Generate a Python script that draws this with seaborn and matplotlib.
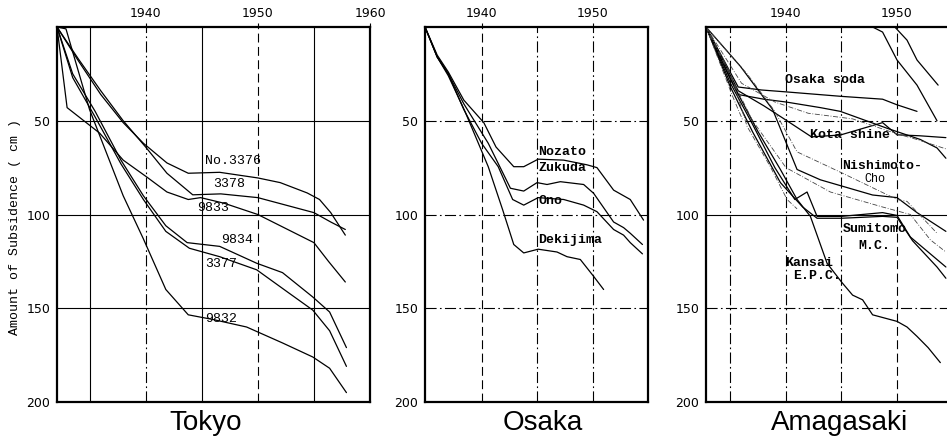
import matplotlib.pyplot as plt
import seaborn as sns

# ---- Tokyo (year, subsidence cm)
tokyo_3376_yr = [1932.1, 1934, 1936, 1938, 1939.8, 1941.9, 1943.8, 1946.6, 1950, 1952, 1954.4, 1955.5, 1956.5, 1957.8]
tokyo_3376_cm = [0, 18, 36, 51, 62, 72.5, 78, 77.5, 80.5, 83, 88.5, 92, 99, 111]
tokyo_3378_yr = [1932.1, 1934, 1936, 1938, 1940, 1941.9, 1944.2, 1946.7, 1950, 1952.5, 1955, 1956.5, 1957.8]
tokyo_3378_cm = [0, 17, 34, 50, 64, 78, 89.5, 89, 91, 95, 99, 104, 108]
tokyo_9833_yr = [1932.1, 1933, 1935.9, 1938, 1940.1, 1941.9, 1943.8, 1944.9, 1947, 1950, 1953, 1955, 1956.3, 1957.8]
tokyo_9833_cm = [0, 43, 56.6, 71, 80, 88, 92, 91, 94, 100, 109, 115, 125, 136]
tokyo_9834_yr = [1932.1, 1933.5, 1935.5, 1937.8, 1939.8, 1941.8, 1943.7, 1946.6, 1949.9, 1952.2, 1954.9, 1956.4, 1957.9]
tokyo_9834_cm = [0, 25, 45, 71, 90, 106, 115, 117, 126, 131, 144, 152, 171]
tokyo_3377_yr = [1932.1, 1933.5, 1935.5, 1937.8, 1939.8, 1941.8, 1943.9, 1946.6, 1949.9, 1952.8, 1954.9, 1956.4, 1957.9]
tokyo_3377_cm = [0, 27, 48, 73, 92, 109, 118, 122.5, 129.5, 142, 151, 162, 181]
tokyo_9832_yr = [1932.1, 1932.9, 1935, 1938, 1939.8, 1941.8, 1943.8, 1946, 1949, 1952.2, 1954.9, 1956.4, 1957.9]
tokyo_9832_cm = [0, 1, 44, 90, 113, 140, 153.5, 156, 160, 168.5, 176, 182, 195]
tokyo_names = ['No.3376', '3378', '9833', '9834', '3377', '9832']
tokyo_label_yr = [1945.3, 1946.0, 1944.6, 1946.7, 1945.3, 1945.3]
tokyo_label_cm = [71.4, 83.7, 96.5, 113.5, 126.3, 155.6]

# ---- Osaka
osaka_nozato_yr = [1934.9, 1936, 1937, 1938.4, 1940.2, 1941.3, 1942.9, 1943.8, 1945.1, 1947.4, 1949.5, 1950.4, 1951.9, 1953.4, 1954.6]
osaka_nozato_cm = [0, 15, 24, 39, 51, 64, 74.5, 74.5, 70.5, 71, 73.5, 75, 87, 92, 103]
osaka_zukuda_yr = [1934.9, 1936, 1937, 1938.4, 1940.6, 1942.6, 1943.8, 1945, 1945.9, 1947.1, 1949.2, 1950.1, 1951.9, 1952.8, 1953.4, 1954.5]
osaka_zukuda_cm = [0, 16, 25, 41, 62, 86, 87.5, 83, 84, 82.5, 84, 88.7, 104, 107, 110, 116]
osaka_ono_yr = [1934.9, 1936, 1937, 1938.4, 1940, 1941.5, 1942.8, 1943.8, 1945.1, 1947.4, 1949.2, 1950.4, 1951.9, 1952.8, 1953.4, 1954.5]
osaka_ono_cm = [0, 16, 25, 44, 62, 74.5, 92, 95, 91, 92, 95, 98.5, 108, 111, 115, 121]
osaka_dekijima_yr = [1934.9, 1936, 1937, 1938.5, 1940.6, 1941.9, 1942.9, 1943.8, 1945.1, 1946.8, 1947.7, 1948.9, 1950.1, 1951]
osaka_dekijima_cm = [0, 16, 26, 45, 74.5, 97.5, 116, 120.5, 118.5, 120, 122.5, 124, 133, 140]
osaka_names = ['Nozato', 'Zukuda', 'Ono', 'Dekijima']
osaka_label_yr = [1945.1, 1945.1, 1945.1, 1945.1]
osaka_label_cm = [66.6, 75.0, 92.8, 113.5]

# ---- Amagasaki (solid records)
amag_soda_yr = [1932.8, 1935.7, 1937.8, 1940, 1945, 1948.7, 1950, 1951.8]
amag_soda_cm = [0, 32, 33.6, 34.6, 37, 38.5, 41.5, 45]
amag_kota_yr = [1932.8, 1935.7, 1938, 1939.7, 1942.3, 1944.9, 1948.7, 1950, 1952, 1954.4]
amag_kota_cm = [0, 34, 42, 48.5, 58.6, 57.6, 51, 57.5, 58, 59]
amag_c_yr = [1932.8, 1935.7, 1938, 1940, 1943.1, 1944.9, 1949.1, 1952.1, 1953.6, 1954.4]
amag_c_cm = [0, 36, 38.5, 40, 43, 45, 54, 60, 64.5, 70]
amag_nishi_yr = [1932.8, 1935.9, 1938.8, 1941, 1943.1, 1947.8, 1950, 1951.8, 1954.4]
amag_nishi_cm = [0, 21, 44, 76, 81.5, 89.6, 91, 99, 109]
amag_sumi1_yr = [1932.8, 1935, 1937, 1939, 1940.8, 1941.9, 1942.8, 1945, 1948.7, 1950, 1951.2, 1953.6, 1954.4]
amag_sumi1_cm = [0, 30, 52, 75, 92, 88, 101, 101, 99, 100.5, 112, 124, 128]
amag_sumi2_yr = [1932.8, 1935, 1937, 1939.5, 1941.5, 1942.8, 1945, 1948.7, 1950, 1951.4, 1953.6, 1954.4]
amag_sumi2_cm = [0, 32, 56, 83, 96, 102, 102, 101, 101.5, 114, 128, 134]
amag_kansai_yr = [1932.8, 1935, 1937.5, 1939.5, 1941, 1942.2, 1943.7, 1945, 1946, 1946.9, 1947.8, 1950, 1950.9, 1951.8, 1952.8, 1953.9]
amag_kansai_cm = [0, 28, 56, 76, 92, 101, 126, 136, 143, 145.5, 153.5, 157, 160, 165, 171, 179]
amag_late1_yr = [1947.8, 1948.7, 1950, 1951.8, 1953.6]
amag_late1_cm = [0, 2.7, 17.6, 31, 50]
amag_late2_yr = [1949.8, 1950.9, 1951.8, 1953.7]
amag_late2_cm = [0, 7, 17.6, 31]
# ---- Amagasaki (thin dash-dot records)
amag_thin1_yr = [1932.8, 1935.2, 1936.1]
amag_thin1_cm = [0, 37, 49.6]
amag_thin2_yr = [1932.8, 1936.5, 1939, 1941, 1945.1, 1950, 1950.9, 1953.6]
amag_thin2_cm = [0, 25, 45, 66.6, 78, 92, 93, 110]
amag_thin3_yr = [1932.8, 1936, 1939, 1942, 1946, 1950, 1951.8, 1954.4]
amag_thin3_cm = [0, 30, 40, 46, 49, 57, 60, 65]
amag_thin4_yr = [1932.8, 1935, 1936.5, 1938.6, 1940.1, 1941]
amag_thin4_cm = [0, 24.5, 53, 74.6, 92, 97]
amag_thin5_yr = [1932.8, 1937, 1940, 1944, 1948.7, 1951.2, 1953, 1954.4]
amag_thin5_cm = [0, 50, 75, 88, 96, 100, 113.5, 120]
amag_names = ['Osaka soda', 'Kota shine', 'Nishimoto-', 'Sumitomo', 'M.C.', 'Kansai', 'E.P.C.']
amag_label_yr = [1939.9, 1942.2, 1945.1, 1945.1, 1946.5, 1939.9, 1940.6]
amag_label_cm = [28.2, 57.6, 74.0, 107.7, 117.0, 125.8, 133.0]
amag_cho_yr = 1947.1
amag_cho_cm = 81.2

sns.set_style('white')
plt.rcParams['font.family'] = ['DejaVu Sans']
plt.rcParams['text.color'] = 'black'

W, H = 947, 442
fig = plt.figure(figsize=(W / 100, H / 100), dpi=100)

DASHDOT = (0, (10, 3, 1.5, 3))
DASHED = (0, (8, 4))


def make_axes(left, width, xlim, xticks, vgrid, hgrid, right_spine=True):
    ax = fig.add_axes([left / W, 40 / H, width / W, 375 / H])
    ax.set_xlim(*xlim)
    ax.set_ylim(200, 0)
    for x, ls in vgrid:
        ax.axvline(x, color='black', lw=0.8, ls=ls, zorder=1)
    for y, ls in hgrid:
        ax.axhline(y, color='black', lw=0.8, ls=ls, zorder=1)
    ax.xaxis.tick_top()
    ax.set_xticks(xticks)
    ax.set_yticks([50, 100, 150, 200])
    ax.tick_params(axis='both', length=3, width=0.8, labelsize=9, pad=2, colors='black')
    for s in ax.spines.values():
        s.set_linewidth(1.6)
        s.set_color('black')
    ax.spines['right'].set_visible(right_spine)
    ax.set_xlabel('')
    ax.set_ylabel('')
    return ax


def draw(ax, xs, ys, lw=0.9, ls='-', color='black'):
    sns.lineplot(x=xs, y=ys, ax=ax, color=color, lw=lw, ls=ls,
                 estimator=None, sort=False, legend=False)


# Tokyo
ax_t = make_axes(57, 313, (1932.1, 1960), [1940, 1950, 1960],
                 [(1935, '-'), (1940, DASHDOT), (1945, '-'), (1950, DASHED), (1955, '-')],
                 [(50, '-'), (100, '-'), (150, '-')])
for xs, ys in [(tokyo_3376_yr, tokyo_3376_cm), (tokyo_3378_yr, tokyo_3378_cm),
               (tokyo_9833_yr, tokyo_9833_cm), (tokyo_9834_yr, tokyo_9834_cm),
               (tokyo_3377_yr, tokyo_3377_cm), (tokyo_9832_yr, tokyo_9832_cm)]:
    draw(ax_t, xs, ys)
for name, x, y in zip(tokyo_names, tokyo_label_yr, tokyo_label_cm):
    ax_t.text(x, y, name, family='Liberation Mono', fontsize=9.5, va='center', ha='left')

# Osaka
ax_o = make_axes(425, 223, (1934.9, 1955), [1940, 1950],
                 [(1940, DASHED), (1945, DASHDOT), (1950, DASHDOT)],
                 [(50, DASHDOT), (100, DASHDOT), (150, DASHDOT)])
for xs, ys in [(osaka_nozato_yr, osaka_nozato_cm), (osaka_zukuda_yr, osaka_zukuda_cm),
               (osaka_ono_yr, osaka_ono_cm), (osaka_dekijima_yr, osaka_dekijima_cm)]:
    draw(ax_o, xs, ys)
for name, x, y in zip(osaka_names, osaka_label_yr, osaka_label_cm):
    ax_o.text(x, y, name, family='Liberation Mono', fontweight='bold', fontsize=9.5,
              va='center', ha='left')

# Amagasaki
ax_a = make_axes(706, 241, (1932.8, 1954.5), [1940, 1950],
                 [(1935, DASHDOT), (1940, DASHDOT), (1945, DASHDOT), (1950, DASHED)],
                 [(50, DASHDOT), (100, '-'), (150, DASHDOT)], right_spine=False)
for xs, ys in [(amag_soda_yr, amag_soda_cm), (amag_kota_yr, amag_kota_cm),
               (amag_c_yr, amag_c_cm), (amag_nishi_yr, amag_nishi_cm),
               (amag_sumi1_yr, amag_sumi1_cm), (amag_sumi2_yr, amag_sumi2_cm),
               (amag_kansai_yr, amag_kansai_cm), (amag_late1_yr, amag_late1_cm),
               (amag_late2_yr, amag_late2_cm)]:
    draw(ax_a, xs, ys)
for xs, ys in [(amag_thin1_yr, amag_thin1_cm), (amag_thin2_yr, amag_thin2_cm),
               (amag_thin3_yr, amag_thin3_cm), (amag_thin4_yr, amag_thin4_cm),
               (amag_thin5_yr, amag_thin5_cm)]:
    draw(ax_a, xs, ys, lw=0.6, ls=(0, (6, 2, 1, 2)), color='#444444')
for name, x, y in zip(amag_names, amag_label_yr, amag_label_cm):
    ax_a.text(x, y, name, family='Liberation Mono', fontweight='bold', fontsize=9.5,
              va='center', ha='left')
ax_a.text(amag_cho_yr, amag_cho_cm, 'Cho', family='Liberation Mono', fontsize=8.5,
          va='center', ha='left')

# Axis title and city names
fig.text(15 / W, 0.486, 'Amount of Subsidence ( cm )', rotation=90, va='center', ha='center',
         family='Liberation Mono', fontsize=9.5)
for name, xc in [('Tokyo', 206), ('Osaka', 543), ('Amagasaki', 840)]:
    fig.text(xc / W, 6 / H, name, ha='center', va='bottom', family='Liberation Sans', fontsize=20)

fig.savefig('out.png', dpi=100)
